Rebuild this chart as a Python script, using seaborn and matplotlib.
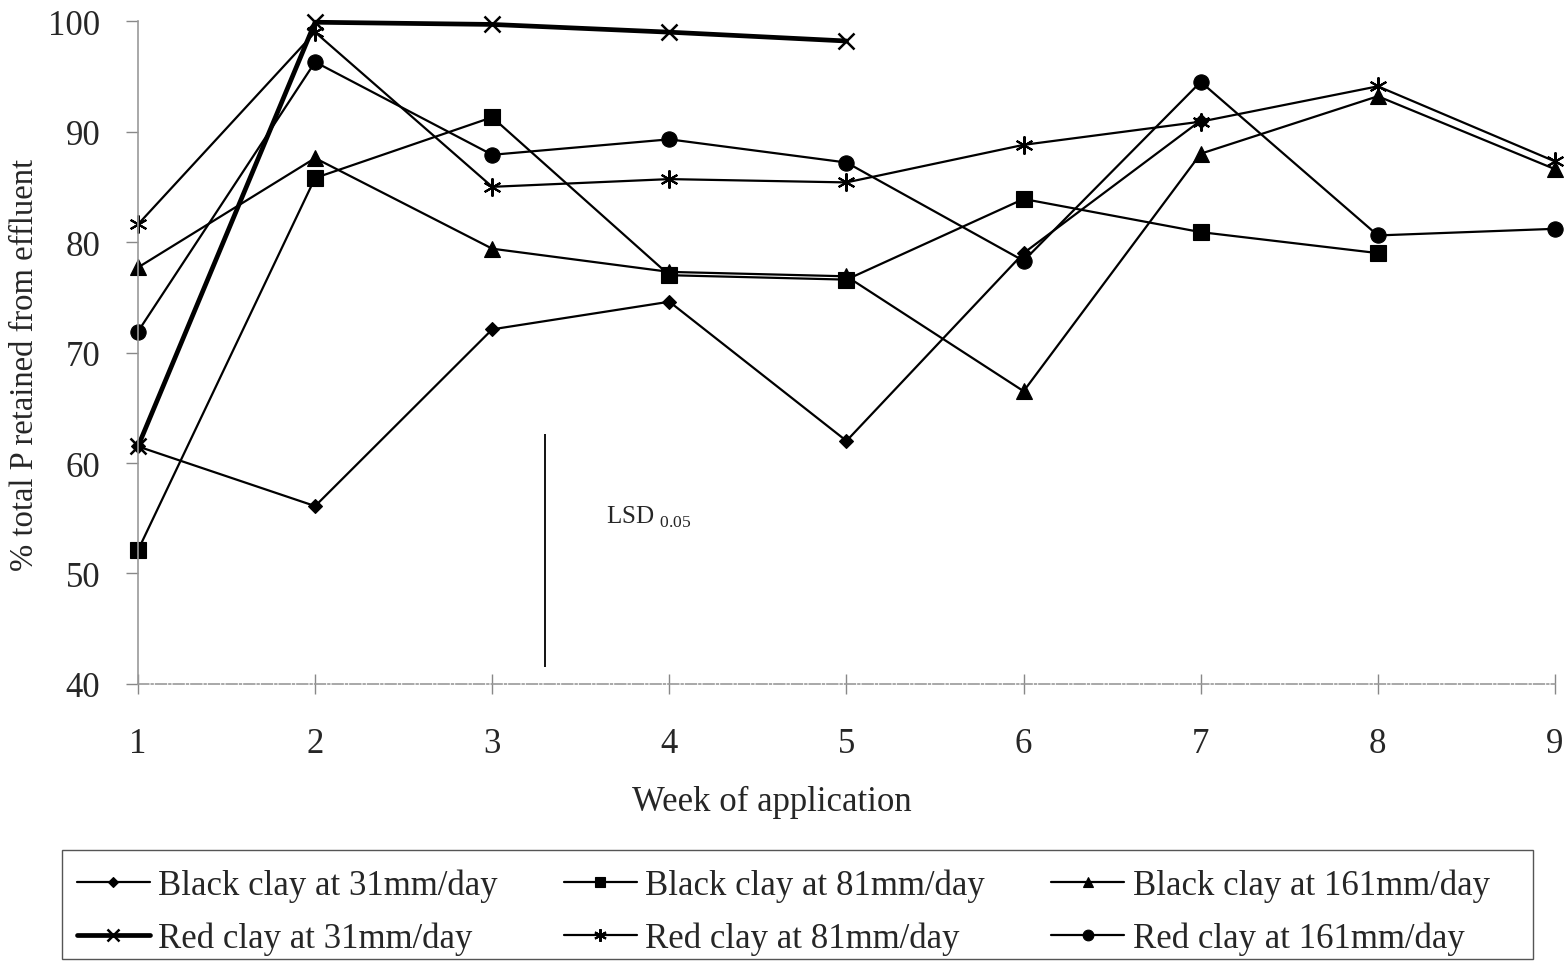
import matplotlib
matplotlib.use("Agg")
import matplotlib.pyplot as plt
from matplotlib.patches import Rectangle
import seaborn as sns
import pandas as pd

weeks = [1, 2, 3, 4, 5, 6, 7, 8, 9]
black_31 = [61.5, 56.1, 72.1, 74.6, 62.0, 79.0, 91.0]
black_81 = [52.1, 85.8, 91.3, 77.0, 76.6, 83.9, 80.9, 79.0]
black_161 = [77.7, 87.6, 79.4, 77.3, 76.9, 66.5, 88.0, 93.2, 86.6]
red_31 = [61.5, 99.9, 99.7, 99.0, 98.2]
red_81 = [81.6, 99.0, 85.0, 85.7, 85.4, 88.8, 90.9, 94.1, 87.3]
red_161 = [71.9, 96.3, 87.9, 89.3, 87.2, 78.3, 94.5, 80.6, 81.2]
labels = ["Black clay at 31mm/day", "Black clay at 81mm/day", "Black clay at 161mm/day",
          "Red clay at 31mm/day", "Red clay at 81mm/day", "Red clay at 161mm/day"]
lsd_week = 3.30
lsd_range = [41.5, 62.6]

sns.set_style("white")
plt.rcParams["font.family"] = ["Liberation Serif", "DejaVu Serif"]
plt.rcParams["mathtext.fontset"] = "custom"
plt.rcParams["mathtext.rm"] = "Liberation Serif"

W, H = 1568, 962
fig = plt.figure(figsize=(W / 100, H / 100), dpi=100)
ax = fig.add_axes([0.088, 0.288, 0.9037, 0.689])

series = [black_31, black_81, black_161, red_31, red_81, red_161]
styles = [
    dict(marker="D", markersize=7, lw=1.6),
    dict(marker="s", markersize=11, lw=1.6),
    dict(marker="^", markersize=11, lw=1.6),
    dict(marker="x", markersize=12, lw=3.4, markeredgewidth=1.8),
    dict(marker=(6, 2, 0), markersize=13, lw=1.6, markeredgewidth=1.5),
    dict(marker="o", markersize=11, lw=1.6),
]
handles = []
for vals, lab, st in zip(series, labels, styles):
    df = pd.DataFrame({"week": weeks[:len(vals)], "value": vals})
    sns.lineplot(data=df, x="week", y="value", ax=ax, color="black",
                 linewidth=st["lw"], marker=st["marker"], markersize=st["markersize"],
                 markeredgewidth=st.get("markeredgewidth", 0.8), markeredgecolor="black",
                 markerfacecolor="black", clip_on=False, label=lab, legend=False)
    handles.append(ax.lines[-1])

ax.vlines(lsd_week, lsd_range[0], lsd_range[1], color="black", lw=1.3)
ax.text(3.64, 55.2, r"LSD $_{\mathrm{0.05}}$", fontsize=18, ha="left", va="center")

ax.set_xlim(1, 9)
ax.set_ylim(40, 100)
ax.set_xticks(weeks)
ax.set_yticks([40, 50, 60, 70, 80, 90, 100])
ax.tick_params(axis="x", direction="inout", length=14, width=1, color="#888888",
               labelsize=25, pad=24, bottom=True)
ax.tick_params(axis="y", direction="out", length=9, width=1, color="#888888",
               labelsize=25, pad=18, left=True)
for s in ["top", "right"]:
    ax.spines[s].set_visible(False)
ax.spines["left"].set_color("#9a9a9a")
ax.spines["left"].set_linewidth(1.2)
ax.spines["bottom"].set_color("#9a9a9a")
ax.spines["bottom"].set_linewidth(1.2)
ax.spines["bottom"].set_linestyle("-.")
ax.set_xlabel("Week of application", fontsize=25)
ax.set_ylabel("% total P retained from effluent", fontsize=23.5)
ax.xaxis.set_label_coords(0.447, -0.153)
ax.yaxis.set_label_coords(-0.069, 0.483)

# legend frame box
fig.patches.append(Rectangle((62 / W, 1 - 960 / H), (1533 - 62) / W, (960 - 851) / H,
                             transform=fig.transFigure, fill=False,
                             edgecolor="#555555", linewidth=1.0))

order = [0, 3, 1, 4, 2, 5]
leg = fig.legend([handles[i] for i in order], [labels[i] for i in order],
                 loc="upper left", bbox_to_anchor=(62 / W, 1 - 855 / H),
                 ncol=3, fontsize=25, frameon=False,
                 handlelength=2.1, handletextpad=0.25,
                 borderaxespad=0, borderpad=0.42, labelspacing=0.55, columnspacing=1.9)
for h in leg.legend_handles:
    h.set_markersize(h.get_markersize() * 0.7)

fig.savefig("out.png", dpi=100, facecolor="white")
